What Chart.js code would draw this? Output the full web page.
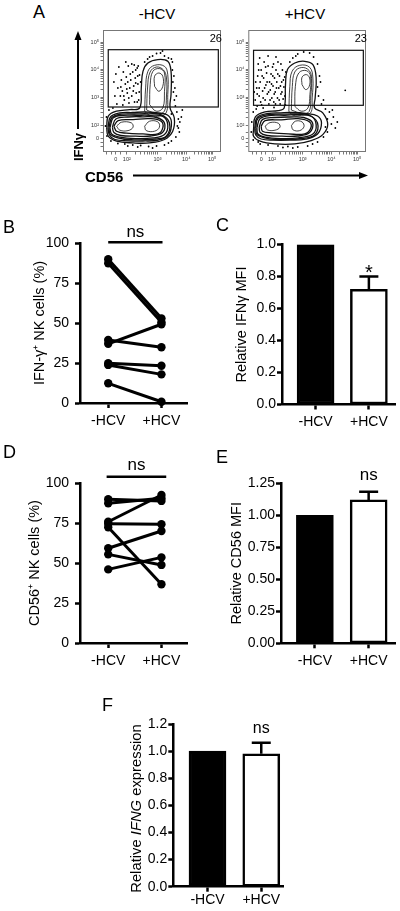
<!DOCTYPE html>
<html>
<head>
<meta charset="utf-8">
<script src="https://cdn.jsdelivr.net/npm/chart.js@4.4.1/dist/chart.umd.min.js"></script>
<style>
body { margin:0; background:#fff; width:400px; height:911px; position:relative; overflow:hidden; font-family:"Liberation Sans", Arial, sans-serif; }
.lbl { position:absolute; color:#000; white-space:nowrap; line-height:1; }
</style>
</head>
<body>
<svg width="400" height="200" style="position:absolute;left:0;top:0">
	<line x1="78" y1="129" x2="78" y2="38" stroke="#000" stroke-width="2"/>
	<polygon points="78,31 74.5,40 81.5,40" fill="#000"/>
	<line x1="133" y1="175.5" x2="360" y2="175.5" stroke="#000" stroke-width="2"/>
	<polygon points="368,175.5 359,172 359,179" fill="#000"/>
</svg>
<script>
var FONT = "'Liberation Sans', Arial, sans-serif";

// shared categories
var groups = ["-HCV", "+HCV"];

// B: IFN-g+ NK cells (%), one pair per donor
var ifngPctNeg = [89.8, 87.3, 37.0, 39.4, 24.8, 23.8, 12.3];
var ifngPctPos = [52.9, 50.5, 49.2, 34.8, 23.3, 17.9, 0.8];

// D: CD56+ NK cells (%)
var cd56PctNeg = [89.8, 87.3, 75.8, 74.5, 72.3, 59.2, 55.4, 46.0];
var cd56PctPos = [88.8, 90.5, 92.5, 74.2, 36.7, 70.0, 48.8, 53.5];

// C, E, F: relative values (mean, upper error)
var ifngMfiMean = [1.0, 0.72];
var ifngMfiErr = [0, 0.08];
var cd56MfiMean = [1.0, 1.12];
var cd56MfiErr = [0, 0.064];
var ifngExprMean = [1.0, 0.98];
var ifngExprErr = [0, 0.082];

// A: flow plots, axes in display channels
var flowXTicks = [130, 240, 550, 840, 1100];
var flowYTicks = [140, 270, 550, 830, 1100];
var flowTickLabels = ["0", "10\u00b2", "10\u00b3", "10\u2074", "10\u2075"];
var flowXMinor = [40, 85, 175, 330, 380, 420, 450, 470, 490, 510, 530, 640, 690, 720, 750, 770, 790, 805, 825, 920, 965, 995, 1020, 1040, 1060, 1075, 1090];
var flowYMinor = [60, 100, 190, 350, 400, 435, 460, 480, 500, 515, 535, 630, 680, 710, 735, 755, 775, 795, 815, 910, 955, 985, 1005, 1025, 1045, 1065, 1085];
var negGateX = [53, 1163], negGateY = [450, 1023];
var posGateX = [53, 1163], posGateY = [467, 1017];
var gatePct = ["26", "23"];

var negContours = [
	[[37,241],[53,358],[137,408],[270,424],[370,441],[386,641],[403,807],[453,890],[553,924],[653,907],[686,807],[686,574],[676,441],[719,341],[703,208],[620,125],[470,91],[303,91],[137,108],[53,158]],
	[[50,241],[75,350],[170,390],[300,395],[420,400],[560,390],[650,370],[690,300],[660,170],[560,120],[400,110],[250,112],[120,125],[65,170]],
	[[60,241],[90,345],[185,378],[320,380],[450,382],[590,372],[670,290],[640,160],[530,130],[370,122],[200,130],[75,175]],
	[[70,241],[103,341],[203,367],[336,367],[470,367],[603,357],[653,274],[620,174],[503,141],[336,134],[170,148],[87,181]],
	[[95,250],[130,330],[250,350],[400,352],[540,345],[620,290],[600,195],[480,160],[330,158],[180,165],[110,195]],
	[[110,258],[153,314],[303,324],[470,334],[586,308],[603,241],[553,181],[403,181],[236,188],[137,208]],
	[[137,258],[187,298],[286,291],[303,248],[253,214],[170,218]],
	[[420,258],[470,308],[553,301],[569,248],[520,208],[436,214]],
	[[420,408],[430,641],[453,807],[520,867],[620,857],[653,774],[653,574],[636,391],[553,357],[470,367]],
	[[440,420],[450,650],[475,800],[540,850],[610,820],[640,740],[640,560],[620,410],[550,380]],
	[[470,474],[476,674],[503,807],[570,834],[620,790],[620,607],[603,441],[536,408]],
	[[520,657],[520,757],[563,790],[603,757],[603,657],[563,607]]
];
var posContours = [
	[[53,224],[70,348],[170,401],[303,414],[363,441],[376,674],[396,824],[470,890],[570,907],[653,874],[686,740],[676,541],[670,441],[753,391],[803,274],[753,174],[636,114],[470,81],[270,81],[120,108],[53,158]],
	[[65,235],[90,345],[200,385],[330,392],[440,395],[580,385],[700,360],[740,290],[700,180],[580,128],[420,118],[250,118],[130,130],[75,170]],
	[[75,240],[100,340],[215,375],[350,378],[470,380],[610,370],[700,290],[670,170],[540,135],[380,126],[210,132],[90,172]],
	[[87,241],[120,334],[236,367],[370,367],[503,374],[636,357],[686,274],[653,181],[503,141],[336,134],[170,148],[97,181]],
	[[110,250],[145,326],[260,345],[420,350],[560,345],[650,290],[620,195],[500,160],[340,158],[190,165],[120,195]],
	[[130,258],[170,314],[336,321],[503,334],[620,301],[630,234],[570,181],[403,181],[236,191],[143,208]],
	[[170,258],[220,294],[303,288],[320,248],[270,218],[193,221]],
	[[436,264],[476,308],[543,301],[563,254],[520,214],[453,221]],
	[[410,408],[420,657],[443,807],[520,867],[620,847],[653,740],[646,541],[630,391],[536,367],[453,367]],
	[[435,420],[445,655],[470,800],[540,845],[615,815],[640,735],[632,560],[615,405],[545,385]],
	[[470,457],[476,657],[510,790],[586,814],[630,757],[623,574],[603,441],[536,408]],
	[[543,674],[543,747],[586,774],[620,740],[616,657],[580,624]]
];
var negDots = [[110,700],[130,780],[150,640],[160,850],[175,560],[185,720],[195,610],[205,800],[215,520],[225,680],[235,750],[245,590],[255,860],[262,490],[270,640],[280,720],[290,560],[300,800],[310,660],[318,500],[325,740],[335,590],[345,840],[352,680],[360,520],[368,770],[140,480],[120,560],[230,900],[290,880],[200,470],
	[240,630],[275,780],[305,610],[330,690],[350,760],[365,600],[180,650],[250,700],[315,870],[345,500],[210,560],[260,540],[330,820],[355,860],[380,700],
	[450,930],[500,960],[540,985],[580,990],[620,960],[660,940],[700,900],[420,900],[470,950],[600,1010],[690,930],
	[700,820],[705,700],[710,600],[720,520],[730,460],[745,400],[760,330],[750,260],[770,200],[735,150],[800,420],[690,380],[715,760],[725,640],[740,560],[775,300],[790,350],[760,240],
	[690,110],[620,70],[540,60],[460,55],[380,65],[300,70],[220,80],[150,85],[80,110],[40,160],[25,260],[35,350],[60,420],[100,440],[660,90],[500,40],[350,50],[250,60]];
var posDots = [[70,520],[85,640],[95,760],[100,880],[110,560],[120,700],[130,820],[135,470],[145,610],[155,740],[160,900],[170,520],[178,670],[185,790],[192,580],[200,860],[208,480],[215,700],[222,620],[230,780],[238,540],[245,850],[250,660],[258,500],[265,740],[272,600],[280,820],[288,700],[295,540],[300,900],[308,640],[315,760],[322,480],[330,580],[338,700],[345,820],[352,530],[360,650],[368,750],[375,470],[90,460],[60,600],[115,940],[200,960],[280,950],
	[75,700],[90,580],[105,820],[125,500],[140,760],[150,540],[165,640],[175,850],[190,700],[205,600],[220,520],[235,680],[248,760],[262,580],[275,480],[285,640],[298,780],[312,520],[325,660],[340,600],[355,720],[370,560],[380,800],[110,640],[255,880],[330,880],
	[450,940],[500,980],[560,1000],[620,990],[660,950],[700,880],[420,900],[480,960],
	[720,760],[700,650],[710,560],[740,480],[780,430],[820,400],[860,350],[840,280],[880,240],[800,200],[760,150],[980,617],[730,700],[760,520],[800,330],[850,420],[900,300],[780,250],
	[700,100],[600,60],[500,50],[400,55],[300,60],[200,70],[120,80],[50,120],[30,200],[35,300],[50,400],[80,430],[150,440],[260,445],[650,80],[450,40],[350,45],[100,100]];

Chart.defaults.font.family = FONT;
Chart.defaults.color = "#000";

var charts = {};

function label(text, x, y, size, css) {
	var d = document.createElement("div");
	d.className = "lbl";
	d.textContent = text;
	d.style.left = x + "px";
	d.style.top = y + "px";
	d.style.fontSize = size + "px";
	if (css) d.style.cssText += css;
	document.body.appendChild(d);
	return d;
}

function makeChart(id, left, top, width, height, config) {
	var canvas = document.createElement("canvas");
	canvas.id = "chart_" + id;
	canvas.width = width;
	canvas.height = height;
	canvas.style.position = "absolute";
	canvas.style.left = left + "px";
	canvas.style.top = top + "px";
	canvas.style.width = width + "px";
	canvas.style.height = height + "px";
	document.body.appendChild(canvas);
	config.options.responsive = false;
	config.options.animation = false;
	config.options.devicePixelRatio = 1;
	config.options.plugins = { legend: { display: false }, tooltip: { enabled: false } };
	charts[id] = new Chart(canvas.getContext("2d"), config);
}

function toXY(list) {
	var out = [];
	for (var i = 0; i < list.length; i++) out.push({ x: list[i][0], y: list[i][1] });
	return out;
}

function yStat(max, step, digits, title, titlePad, axisW, labPad) {
	return {
		type: "linear", min: 0, max: max,
		afterFit: function(s) { s.width = axisW; },
		border: { color: "#000", width: 2.5 },
		grid: { drawOnChartArea: false, tickLength: 5, tickWidth: 2.5, tickColor: "#000" },
		ticks: { stepSize: step, padding: labPad, color: "#000", font: { size: 14 },
			callback: function(v) { return v.toFixed(digits); } },
		title: { display: !!title, text: title, color: "#000", font: { size: 14.5 }, padding: { top: titlePad, bottom: 0 } }
	};
}

function xStat(min, max, axisH, labPad) {
	return {
		type: "linear", min: min, max: max, offset: false,
		afterFit: function(s) { s.height = axisH; },
		afterBuildTicks: function(s) { s.ticks = [{ value: 0 }, { value: 1 }]; },
		border: { color: "#000", width: 2.5 },
		grid: { offset: false, drawOnChartArea: false, tickLength: 5, tickWidth: 2.5, tickColor: "#000" },
		ticks: { padding: labPad, autoSkip: false, maxRotation: 0, color: "#000", font: { size: 14 },
			callback: function(v, i) { return groups[i]; } }
	};
}

function pairSets(neg, pos) {
	var sets = [];
	for (var i = 0; i < neg.length; i++) {
		sets.push({ data: [{ x: 0, y: neg[i] }, { x: 1, y: pos[i] }], showLine: true, borderColor: "#000",
			backgroundColor: "#000", borderWidth: 3, pointRadius: 4.2, pointBorderWidth: 0, clip: false });
	}
	return sets;
}

function barSet(means) {
	return [{ data: [{ x: 0, y: means[0] }, { x: 1, y: means[1] }], backgroundColor: ["#000", "#fff"],
		borderColor: "#000", borderWidth: 2.5, borderSkipped: false, barThickness: 37 }];
}

function sigMark(text, x0, x1, yBar, yText, size) {
	return { id: "sig", afterDraw: function(chart) {
		var ctx = chart.ctx, xs = chart.scales.x, ys = chart.scales.y;
		ctx.save();
		ctx.fillStyle = "#000";
		ctx.strokeStyle = "#000";
		if (yBar !== null) {
			ctx.lineWidth = 2.5;
			ctx.beginPath();
			ctx.moveTo(xs.getPixelForValue(x0), ys.getPixelForValue(yBar));
			ctx.lineTo(xs.getPixelForValue(x1), ys.getPixelForValue(yBar));
			ctx.stroke();
		}
		ctx.font = size + "px " + FONT;
		ctx.textAlign = "center";
		ctx.textBaseline = "alphabetic";
		ctx.fillText(text, xs.getPixelForValue((x0 + x1) / 2), ys.getPixelForValue(yText));
		ctx.restore();
	} };
}

function errBars(means, errs) {
	return { id: "err", afterDatasetsDraw: function(chart) {
		var ctx = chart.ctx, xs = chart.scales.x, ys = chart.scales.y;
		ctx.save();
		ctx.strokeStyle = "#000";
		ctx.lineWidth = 2.5;
		for (var i = 0; i < means.length; i++) {
			if (!errs[i]) continue;
			var x = xs.getPixelForValue(i), y0 = ys.getPixelForValue(means[i]), y1 = ys.getPixelForValue(means[i] + errs[i]);
			ctx.beginPath();
			ctx.moveTo(x, y0);
			ctx.lineTo(x, y1);
			ctx.moveTo(x - 9.5, y1);
			ctx.lineTo(x + 9.5, y1);
			ctx.stroke();
		}
		ctx.restore();
	} };
}

function flowFrame(gx, gy) {
	return { id: "frame", afterDraw: function(chart) {
		var a = chart.chartArea, ctx = chart.ctx, xs = chart.scales.x, ys = chart.scales.y;
		ctx.save();
		ctx.strokeStyle = "#777";
		ctx.lineWidth = 1;
		ctx.strokeRect(a.left + 0.5, a.top + 0.5, a.right - a.left - 1, a.bottom - a.top - 1);
		ctx.strokeStyle = "#111";
		ctx.lineWidth = 1.2;
		var x0 = xs.getPixelForValue(gx[0]), x1 = xs.getPixelForValue(gx[1]);
		var y0 = ys.getPixelForValue(gy[0]), y1 = ys.getPixelForValue(gy[1]);
		ctx.strokeRect(x0, y1, x1 - x0, y0 - y1);
		ctx.restore();
	} };
}

function flowScale(max, ticks, minor, fitProp, fitSize) {
	return {
		type: "linear", min: 0, max: max,
		afterFit: function(s) { s[fitProp] = fitSize; },
		afterBuildTicks: function(s) {
			var all = ticks.concat(minor).sort(function(a, b) { return a - b; });
			s.ticks = [];
			for (var i = 0; i < all.length; i++) s.ticks.push({ value: all[i] });
		},
		border: { display: false },
		grid: { drawOnChartArea: false, tickLength: 2.5, tickWidth: 0.8, tickColor: "#555" },
		ticks: { padding: 1.5, autoSkip: false, maxRotation: 0, color: "#333", font: { size: 5.5 },
			callback: function(v) { var k = ticks.indexOf(v); return k < 0 ? "" : flowTickLabels[k]; } }
	};
}

function flowChart(id, left, contours, dots, gx, gy, yW, padR) {
	var sets = [];
	for (var i = 0; i < contours.length; i++) {
		var pts = toXY(contours[i]);
		pts.push(pts[0]);
		sets.push({ data: pts, showLine: true, borderColor: "#111", borderWidth: i < 6 ? 1.3 : 0.8,
			pointRadius: 0, tension: 0.4, fill: false });
	}
	sets.push({ data: toXY(dots), showLine: false, pointRadius: 0.9, pointBorderWidth: 0, backgroundColor: "#000" });
	makeChart(id, left, 25, 145, 140, {
		type: "scatter",
		data: { datasets: sets },
		options: {
			layout: { padding: { top: 5, right: padR, left: 0, bottom: 0 } },
			scales: {
				x: flowScale(1190, flowXTicks, flowXMinor, "height", 13),
				y: flowScale(1220, flowYTicks, flowYMinor, "width", yW)
			}
		},
		plugins: [flowFrame(gx, gy)]
	});
}

// ---- panel A ----
flowChart("aneg", 80, negContours, negDots, negGateX, negGateY, 23, 3);
flowChart("apos", 225, posContours, posDots, posGateX, posGateY, 23.3, 2.7);
label("A", 33, 3, 18);
label("-HCV", 157, 6, 15, "transform:translateX(-50%)");
label("+HCV", 305, 6, 15, "transform:translateX(-50%)");
label(gatePct[0], 222, 33, 11, "transform:translateX(-100%)");
label(gatePct[1], 367, 33, 11, "transform:translateX(-100%)");
label("IFN\u03b3", 77.5, 147, 13, "font-weight:bold;transform:translate(-50%,-50%) rotate(-90deg)");
label("CD56", 85, 169, 15, "font-weight:bold");

// ---- panel B ----
makeChart("b", 0, 200, 200, 240, {
	type: "scatter",
	data: { datasets: pairSets(ifngPctNeg, ifngPctPos) },
	options: {
		layout: { padding: { top: 43, right: 13, left: 0, bottom: 0 } },
		scales: { x: xStat(-0.53, 1.48, 37, 4.5), y: yStat(100, 25, 0, "IFN-\u03b3\u207a NK cells (%)", 31.3, 80, 6) }
	},
	plugins: [sigMark("ns", 0, 1.02, 100.4, 103.8, 17)]
});
label("B", 3, 218, 18);

// ---- panel C ----
makeChart("c", 200, 200, 200, 240, {
	type: "bar",
	data: { datasets: barSet(ifngMfiMean) },
	options: {
		layout: { padding: { top: 44.5, right: 5, left: 0, bottom: 0 } },
		scales: { x: xStat(-0.63, 1.49, 35.5, 4.4), y: yStat(1, 0.2, 1, "Relative IFN\u03b3 MFI", 33, 82, 1) }
	},
	plugins: [errBars(ifngMfiMean, ifngMfiErr), sigMark("*", 1, 1, null, 0.784, 20)]
});
label("C", 216, 216, 18);

// ---- panel D ----
makeChart("d", 0, 440, 200, 240, {
	type: "scatter",
	data: { datasets: pairSets(cd56PctNeg, cd56PctPos) },
	options: {
		layout: { padding: { top: 43, right: 13, left: 0, bottom: 0 } },
		scales: { x: xStat(-0.53, 1.48, 37, 4.5), y: yStat(100, 25, 0, "CD56\u207a NK cells (%)", 26.3, 80, 6) }
	},
	plugins: [sigMark("ns", -0.03, 1.09, 103.9, 108.1, 17)]
});
label("D", 3, 443, 18);

// ---- panel E ----
makeChart("e", 200, 440, 200, 240, {
	type: "bar",
	data: { datasets: barSet(cd56MfiMean) },
	options: {
		layout: { padding: { top: 43.3, right: 5, left: 0, bottom: 0 } },
		scales: { x: xStat(-0.63, 1.49, 36.7, 4.8), y: yStat(1.25, 0.25, 2, "Relative CD56 MFI", 28, 81, 1) }
	},
	plugins: [errBars(cd56MfiMean, cd56MfiErr), sigMark("ns", 1, 1, null, 1.276, 17)]
});
label("E", 216, 448, 18);

// ---- panel F ----
var fTitle = { id: "ftitle", afterDraw: function(chart) {
	var ctx = chart.ctx;
	var parts = [["Relative ", ""], ["IFNG", "italic "], [" expression", ""]];
	ctx.save();
	ctx.translate(137.3, 128.5);
	ctx.rotate(-Math.PI / 2);
	ctx.fillStyle = "#000";
	ctx.textBaseline = "middle";
	ctx.textAlign = "left";
	var total = 0, i;
	for (i = 0; i < parts.length; i++) {
		ctx.font = parts[i][1] + "14.8px " + FONT;
		total += ctx.measureText(parts[i][0]).width;
	}
	var x = -total / 2;
	for (i = 0; i < parts.length; i++) {
		ctx.font = parts[i][1] + "14.8px " + FONT;
		ctx.fillText(parts[i][0], x, 0);
		x += ctx.measureText(parts[i][0]).width;
	}
	ctx.restore();
} };
makeChart("f", 0, 680, 400, 231, {
	type: "bar",
	data: { datasets: barSet(ifngExprMean) },
	options: {
		layout: { padding: { top: 44, right: 116.7, left: 0, bottom: 0 } },
		scales: { x: xStat(-0.636, 1.41, 24.3, 0), y: yStat(1.2, 0.2, 1, "", 0, 173.3, 1) }
	},
	plugins: [errBars(ifngExprMean, ifngExprErr), sigMark("ns", 1, 1, null, 1.136, 16), fTitle]
});
label("F", 102, 696, 18);
</script>
</body>
</html>
